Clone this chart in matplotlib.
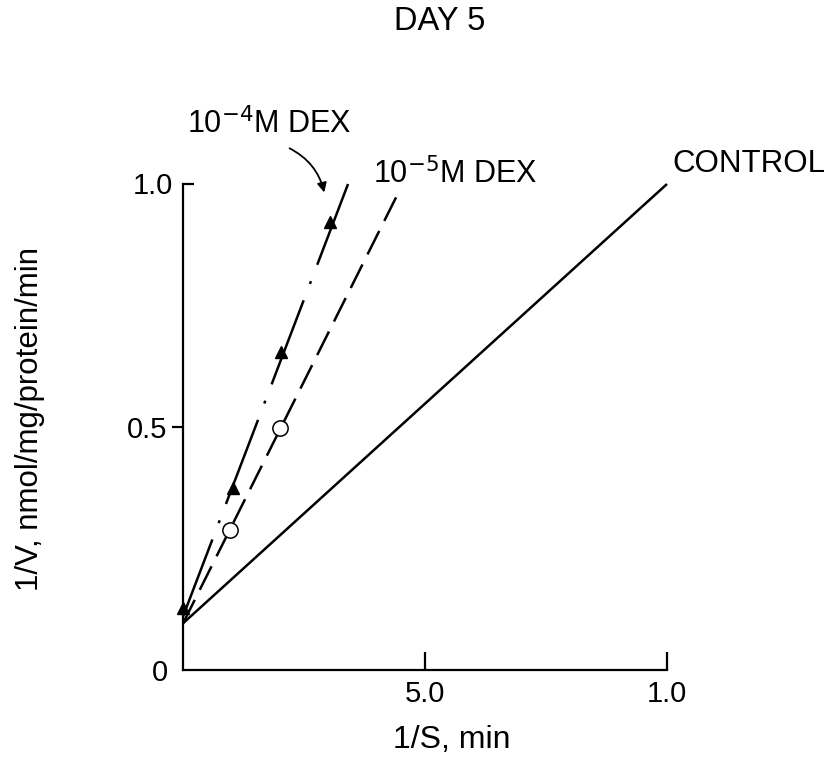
import matplotlib
matplotlib.use("Agg")
import matplotlib.pyplot as plt
from matplotlib.ticker import FixedLocator

plt.rcParams['font.family'] = ['Liberation Sans', 'DejaVu Sans']

# data (1/S in axis units, 1/V)
dex4_x = [0.0, 0.103, 0.202, 0.304]
dex4_y = [0.127, 0.374, 0.654, 0.922]
dex5_x = [0.097, 0.200]
dex5_y = [0.288, 0.498]

# fitted lines
dex4_line_x = [0.0, 0.341]
dex4_line_y = [0.11, 1.0]
dex5_line_x = [0.0, 0.450]
dex5_line_y = [0.096, 0.992]
ctrl_line_x = [0.0, 1.0]
ctrl_line_y = [0.096, 1.0]

xticks = [0.5, 1.0]
xticklabels = ["5.0", "1.0"]
yticks_out = [0.0, 0.5]
yticklabels = ["0", "0.5"]

fig = plt.figure(figsize=(8.36, 7.59), dpi=100)
ax = fig.add_axes([183/836, 1-670/759, 484/836, 486/759])
ax.set_xlim(0, 1)
ax.set_ylim(0, 1)

lw = 1.8
ax.plot(ctrl_line_x, ctrl_line_y, color='black', lw=lw, solid_capstyle='butt', clip_on=False)
ax.plot(dex5_line_x, dex5_line_y, color='black', lw=lw, linestyle=(0, (10.5, 4.5)), clip_on=False)
ax.plot(dex4_line_x, dex4_line_y, color='black', lw=lw, linestyle=(3, (36, 7, 1.2, 7)), clip_on=False)
ax.plot(dex4_x, dex4_y, linestyle='none', marker='^', ms=9, color='black', clip_on=False)
ax.plot(dex5_x, dex5_y, linestyle='none', marker='o', ms=11, mfc='white', mec='black', mew=1.1, clip_on=False)

for s in ['top', 'right']:
    ax.spines[s].set_visible(False)
for s in ['left', 'bottom']:
    ax.spines[s].set_linewidth(1.6)

ax.xaxis.set_major_locator(FixedLocator(xticks))
ax.set_xticklabels(xticklabels, fontsize=21)
ax.tick_params(axis='x', direction='in', length=13, width=1.6, pad=7)

ax.yaxis.set_major_locator(FixedLocator(yticks_out))
ax.set_yticklabels(yticklabels, fontsize=21)
ax.yaxis.set_minor_locator(FixedLocator([1.0]))
ax.tick_params(axis='y', which='major', direction='out', length=8, width=1.6, pad=3)
ax.tick_params(axis='y', which='minor', direction='in', length=8, width=1.6)
ax.yaxis.get_major_ticks()[0].tick1line.set_visible(False)
ax.text(-0.021, 0.995, "1.0", transform=ax.transData, ha='right', va='center', fontsize=21)

fig.text(452/836, 1-740/759, "1/S, min", ha='center', va='center', fontsize=23)
fig.text(30/836, 1-419/759, "1/V, nmol/mg/protein/min", ha='center', va='center',
         rotation=90, fontsize=22.5)

fig.text(440/836, 1-22/759, "DAY 5", ha='center', va='center', fontsize=23.5)

ax.text(0.008, 1.105, r"10$^{-4}$M DEX", ha='left', va='baseline', fontsize=22, transform=ax.transData)
ax.text(0.393, 1.002, r"10$^{-5}$M DEX", ha='left', va='baseline', fontsize=22, transform=ax.transData)
ax.text(1.012, 1.025, "CONTROL", ha='left', va='baseline', fontsize=22.5, transform=ax.transData)

ax.annotate("", xy=(0.293, 0.977), xytext=(0.215, 1.076),
            arrowprops=dict(arrowstyle='-|>', color='black', lw=1.3,
                            connectionstyle='arc3,rad=-0.25', mutation_scale=14),
            annotation_clip=False)

fig.savefig("out.png", dpi=100)
